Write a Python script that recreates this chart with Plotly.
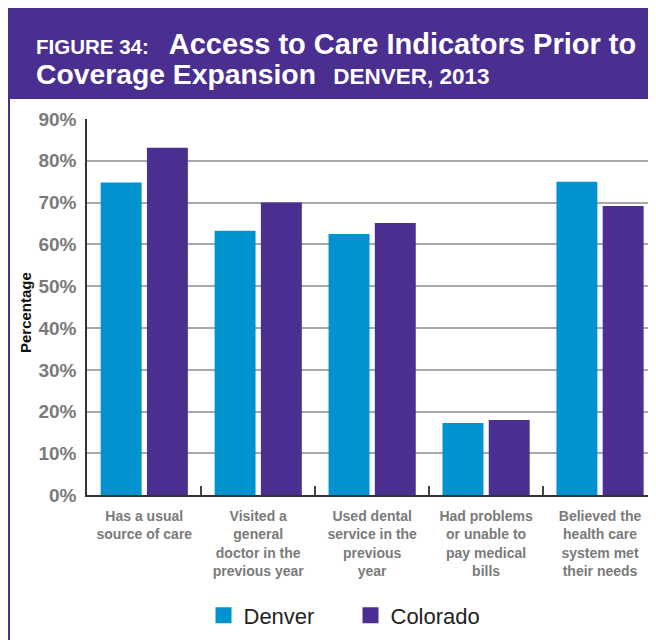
import plotly.graph_objects as go

categories = [
    "Has a usual<br>source of care",
    "Visited a<br>general<br>doctor in the<br>previous year",
    "Used dental<br>service in the<br>previous<br>year",
    "Had problems<br>or unable to<br>pay medical<br>bills",
    "Believed the<br>health care<br>system met<br>their needs",
]
denver = [74.8, 63.3, 62.5, 17.3, 75.0]
colorado = [83.1, 70.0, 65.1, 18.0, 69.2]
y_ticks = [0, 10, 20, 30, 40, 50, 60, 70, 80, 90]
y_tick_text = ["0%", "10%", "20%", "30%", "40%", "50%", "60%", "70%", "80%", "90%"]

BLUE = "#0093D0"
PURPLE = "#4A2F91"
W, H = 656, 640
OFF = 8  # page body margin offset (screen px -> figure px)
NB = "\u00a0"


def fx(p):
    return (p - OFF) / W


def fy(p):
    return 1 - (p - OFF) / H


fig = go.Figure()
fig.add_trace(go.Bar(name="Denver", x=categories, y=denver, showlegend=False,
                     marker=dict(color=BLUE, line=dict(width=0))))
fig.add_trace(go.Bar(name="Colorado", x=categories, y=colorado, showlegend=False,
                     marker=dict(color=PURPLE, line=dict(width=0))))
# legend keys
for name, col in [("Denver", BLUE), ("Colorado", PURPLE)]:
    fig.add_trace(go.Scatter(name=name, x=[None], y=[None], mode="markers",
                             marker=dict(symbol="square", size=16, color=col, line=dict(width=0))))

title_text = (
    "<span style='font-size:20.5px'><b>FIGURE 34:</b></span>"
    + "<span style='font-size:29px'>" + NB * 2 + "</span><span style='font-size:14px'>" + NB + "</span>"
    + "<span style='font-size:29px'><b>Access to Care Indicators Prior to</b></span>"
    + "<br>"
    + "<span style='font-size:28.3px'><b>Coverage Expansion</b></span>"
    + "<span style='font-size:31px'>" + NB * 2 + "</span>"
    + "<span style='font-size:22.5px'><b>DENVER, 2013</b></span>"
)

fig.update_layout(
    width=W, height=H,
    margin=dict(l=0, r=0, t=0, b=0, autoexpand=False),
    paper_bgcolor="white", plot_bgcolor="white",
    barmode="group", bargap=0.188, bargroupgap=0.115,
    font=dict(family="Liberation Sans, Arial, sans-serif"),
    xaxis=dict(
        domain=[fx(87.3), fx(657)], automargin=False,
        range=[-0.5, 4.5],
        showline=True, linecolor="#333", linewidth=2,
        ticks="inside", tickson="boundaries", ticklen=9, tickcolor="#444", tickwidth=2,
        tickfont=dict(size=14, color="#7a7a7a", family="Liberation Sans, Arial", weight="bold"),
        ticklabelstandoff=7,
        showgrid=False, zeroline=False,
    ),
    yaxis=dict(
        domain=[fy(495.3), fy(119)], automargin=False,
        range=[0, 90],
        tickvals=y_ticks, ticktext=y_tick_text,
        showline=True, linecolor="#333", linewidth=2,
        showgrid=True, gridcolor="#a8a8a8", gridwidth=2,
        zeroline=False, ticks="",
        tickfont=dict(size=19, color="#7a7a7a", family="Liberation Sans, Arial", weight="bold"),
        ticklabelstandoff=5,
    ),
    legend=dict(
        orientation="h", x=fx(203.5), xanchor="left", y=fy(615.5), yanchor="middle",
        font=dict(size=22, color="#222", family="Liberation Sans, Arial"),
        itemwidth=30, entrywidth=102, entrywidthmode="pixels",
        itemsizing="trace", tracegroupgap=0, bgcolor="rgba(0,0,0,0)",
    ),
    shapes=[
        dict(type="rect", xref="paper", yref="paper", x0=0, x1=1.0, y0=fy(99), y1=1.0,
             fillcolor=PURPLE, line=dict(width=0), layer="below"),
        dict(type="line", xref="paper", yref="paper", x0=0.5 / W, x1=0.5 / W, y0=fy(99), y1=0,
             line=dict(color=PURPLE, width=3)),
    ],
    annotations=[
        dict(xref="paper", yref="paper", x=fx(34), y=fy(25.5), xanchor="left", yanchor="top",
             align="left", text=title_text, showarrow=False,
             font=dict(size=23.3, color="white", family="Liberation Sans, Arial")),
        dict(xref="paper", yref="paper", x=fx(25), y=fy(313), xanchor="center", yanchor="middle",
             text="Percentage", textangle=-90, showarrow=False,
             font=dict(size=15, color="#111", family="Liberation Sans, Arial", weight="bold")),
    ],
)

fig.write_html("out.html")
